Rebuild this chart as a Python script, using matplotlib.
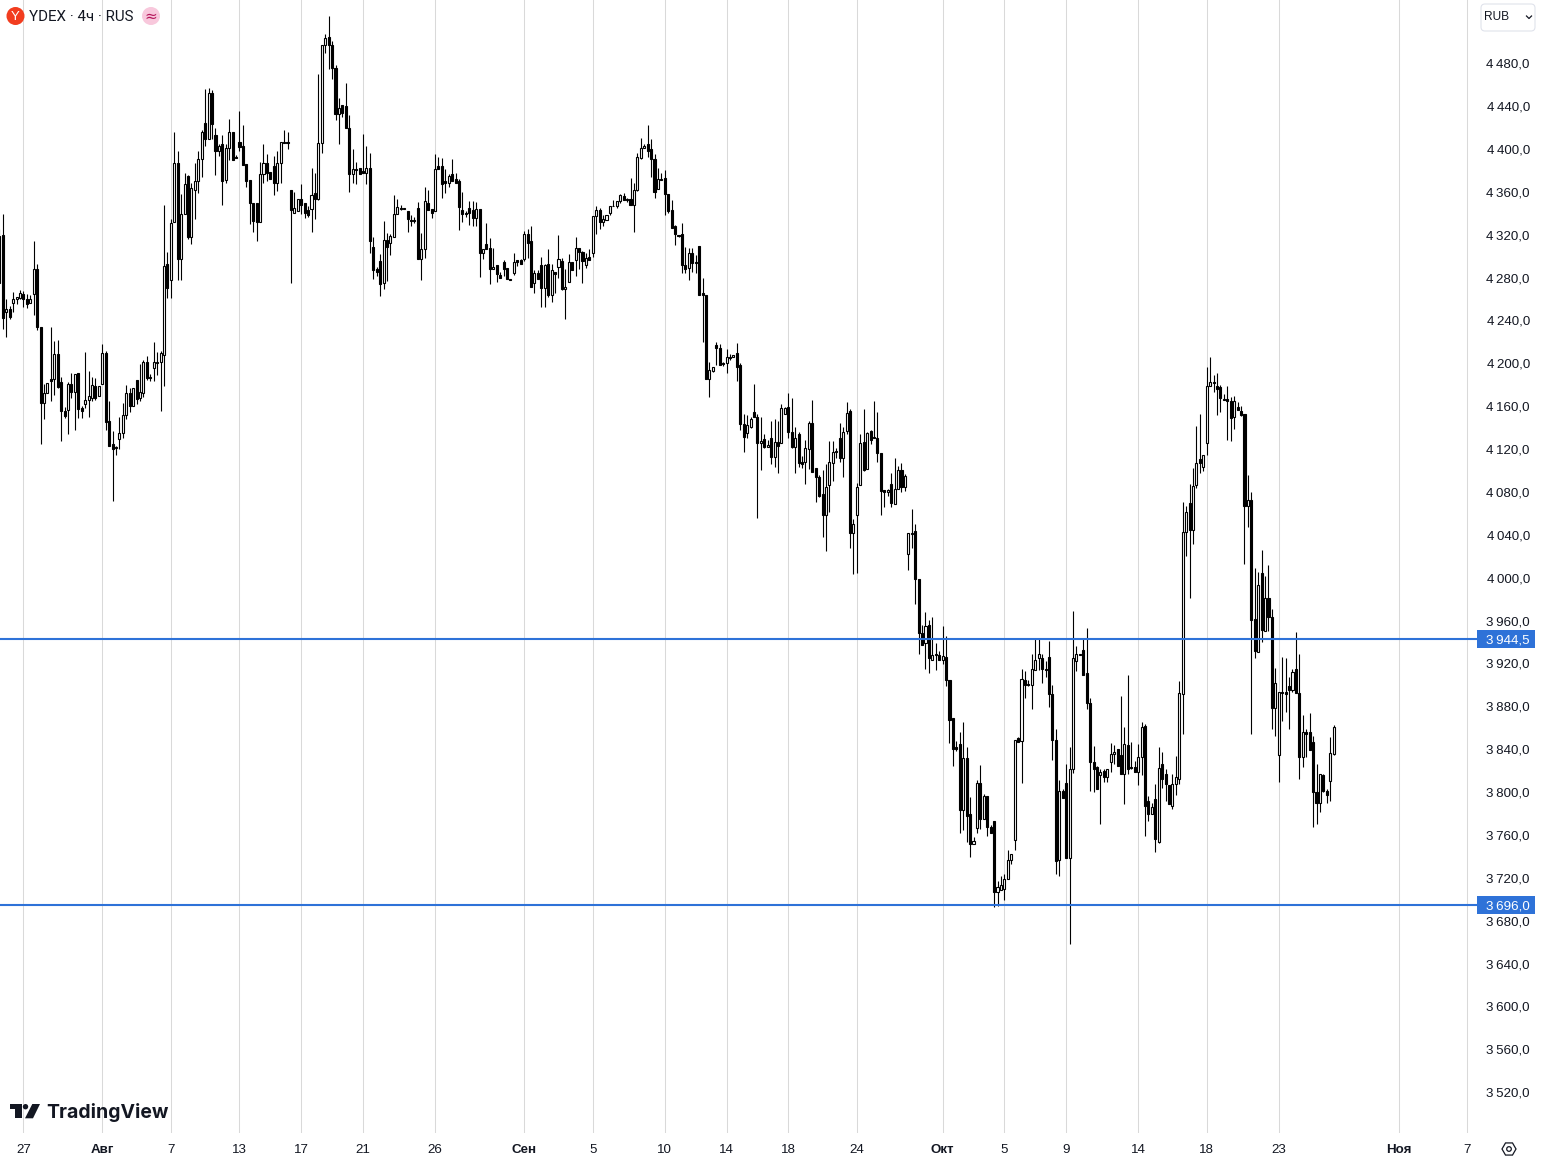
import matplotlib
matplotlib.use("Agg")
import matplotlib.pyplot as plt
from matplotlib.patches import Circle, Polygon, Rectangle, FancyBboxPatch, RegularPolygon
from matplotlib.ticker import FuncFormatter
from matplotlib.transforms import ScaledTranslation
import pandas as pd

plt.rcParams['font.family'] = ['Liberation Sans', 'DejaVu Sans']

# open, high, low, close
bars_jul = [
    (4320,4327,4276,4276),(4321,4341,4233,4244),(4249,4261,4226,4252),(4252,4255,4243,4245),
    (4258,4268,4249,4261),(4261,4263.5,4257,4263.5),(4262.5,4270,4261,4267),(4266,4269,4254,4261),
    (4261,4266,4253,4257),(4258,4265,4258,4261),(4266,4315,4246,4289),(4289,4294,4232,4235),
    (4235,4235,4126,4164),(4164,4182,4149,4174),(4174,4183,4174,4183),(4187,4235,4166,4185),
    (4187,4222,4172,4210),(4210,4223,4178,4179),(4184,4189,4129,4157),(4157,4161,4150,4152),
    (4158,4184,4135,4182),(4182,4192,4169,4175),(4175,4191,4139,4191),(4192,4192,4150,4159),
    (4160,4162,4150,4157),(4163,4212,4160,4167.5),(4167.5,4194,4151,4171),(4169,4189,4166,4181),
    (4180,4188,4167,4169),(4171,4180,4171,4180),
]
bars_aug = [
    (4182,4219,4182,4211),(4211,4213,4139,4147),(4148,4166,4124,4124),(4126,4138,4073,4121),
    (4123,4124,4116,4122),(4131,4151,4121,4136),(4136,4164,4132,4153),(4153,4181,4149,4174),
    (4174,4178,4156,4162),(4162,4178,4162,4178),(4186,4186,4163,4168),(4169,4201,4166,4175),
    (4174,4204,4170,4203),(4203,4208,4186,4188),(4189,4191,4185,4188),(4197,4221,4185,4203),
    (4202,4212,4190,4203),(4203,4213,4157,4211),(4209,4349,4180,4292),(4294,4305,4262,4272),
    (4279,4336,4262,4332),(4333,4417,4333,4388),(4388,4399,4279,4299),(4299,4359,4279,4341),
    (4341,4379,4341,4369),(4376,4377,4317,4319),(4319,4370,4313,4365),(4363,4388,4336,4371),
    (4371,4399,4360,4392),(4392,4419,4375,4417),(4426,4457,4404,4411),(4411,4458,4411,4454),
    (4454,4456,4411,4425),(4414,4421,4377,4399),(4399,4406,4395,4404),(4406,4414,4349,4371),
    (4372,4406,4370,4402),(4402,4429,4391,4417),(4417,4417,4391,4391),(4394,4396,4393,4393),
    (4408,4437,4399,4403.5),(4404,4424,4386,4386),(4387,4387,4366,4371),(4372,4372,4331,4351),
    (4351,4351,4324,4334),(4351,4351,4315,4333),(4333,4389,4333,4378),(4378,4406,4370,4388),
    (4388,4397,4371,4379),(4380,4380,4373,4373),(4385,4395,4358,4370),(4370,4399,4362,4388),
    (4388,4408,4370,4408),(4408,4419,4407,4407),(4408,4417,4401,4407),(4363,4363,4276,4344),
    (4342,4361,4342,4346),(4343,4355,4343,4355),(4355,4369,4341,4349),(4351,4351,4337,4342),
    (4344,4348.5,4338,4340),(4345,4384,4324,4358),(4360.5,4379,4336,4355),(4355,4471.5,4354,4407),
    (4407,4498.5,4398,4498.5),(4498.5,4509,4491,4505),(4506,4525,4476,4498),(4498.5,4502,4467,4477),
    (4477,4480,4428,4434),(4434,4449,4406,4440),(4442,4442,4431.5,4435),(4441,4463,4421,4421),
    (4421,4433,4361,4378),(4378,4401,4370,4383),(4383,4389,4369,4382),(4384,4384,4378,4378),
    (4381,4415,4379,4379),(4379,4404,4369,4384),(4384,4398,4304,4315),(4310,4319,4280,4288),
    (4289,4291,4283,4287),(4297,4303,4264,4275),(4276,4334,4271,4316),(4316,4323,4278,4310),
    (4314,4322,4302,4320),(4319,4358,4319,4341),(4341,4355,4341,4347),(4346,4349,4344,4345),
    (4346,4346,4345,4345),(4343,4343,4324,4336),(4335.5,4340,4329,4334.5),(4335,4338,4332,4334),
    (4346,4352,4299,4299),(4299,4323,4279,4308),(4308,4366,4300,4353),(4351,4363,4344,4344),
    (4345,4345,4337,4342),(4343,4397,4343,4383),(4385,4394,4383,4383),(4385,4393,4356,4369),
    (4371,4383,4360,4370),(4370,4378,4366,4376),(4378,4391.5,4371,4371),(4373,4379,4370,4370),
    (4371,4373,4326,4347),(4344,4361.5,4333,4341),(4342,4343,4338,4341),(4346,4353,4330,4342),
    (4344,4353,4329,4337),(4337,4352,4329,4345),(4345,4345,4282,4304),(4304,4308,4299,4308),
    (4313,4332,4308,4308),(4309,4318,4275,4289),(4289,4309,4289,4291),(4293,4293,4277,4285),
    (4284,4287,4281,4281),(4296,4298,4283,4289),(4290,4290,4280,4280),(4280,4280,4279.5,4279.5),
    (4286,4304,4284,4296),(4298,4298,4292,4296),(4298,4299,4294,4294),
]
bars_sep = [
    (4299,4325,4297,4322),(4322,4327,4300,4314),(4315,4329,4273,4273),(4276,4288,4267,4286),
    (4286,4288,4280,4280),(4293,4301,4254,4272),(4272,4294,4254,4293),(4294,4308,4263,4265),
    (4265,4294,4259,4288),(4287,4287,4267,4285),(4291,4321,4281,4299),(4297,4300,4270,4271),
    (4271,4289,4243,4273),(4277,4303,4277,4296),(4296,4296,4288,4288),(4298,4319,4283,4309),
    (4309,4309,4289,4305),(4305,4306.5,4276,4297),(4293,4304,4290,4300),(4301,4308,4298,4298),
    (4304,4339,4301,4339),(4339,4348.5,4322,4344),(4344,4346,4327,4333.5),(4333.5,4340,4329,4336),
    (4335,4340,4335,4340),(4342,4348.5,4340,4348),(4348.5,4354,4348,4348),(4348.5,4353,4346,4353),
    (4353,4359,4351,4358),(4357,4360,4354,4354),(4354.5,4356,4352,4354),(4355,4374,4349,4349),
    (4349,4370,4324,4363),(4363,4398,4362,4394),(4393,4412,4392,4402),(4402,4406,4402,4404),
    (4406,4424,4394,4399),(4401,4411,4375,4392),(4392,4397,4356,4361),(4364,4384,4364,4373),
    (4373,4379,4372,4372),(4374,4382,4340,4359),(4359,4359,4342,4343),(4344,4354,4328,4328),
    (4329,4330,4312,4322),(4321,4321,4319,4320),(4322,4332,4286,4293),(4293,4310,4286,4289),
    (4290,4309,4279,4304),(4304,4309,4287,4295),(4296,4302,4286,4295),(4311,4311,4265,4265),
    (4267,4281,4221,4265),(4265,4265,4187,4187),(4187,4203,4170,4195),(4194,4198,4193,4198),
    (4218,4221,4200,4216),(4216,4219,4200,4200),(4202,4203,4199,4201),(4202,4215,4192,4207),
    (4207,4210,4204,4206),(4207,4209,4207,4209),(4211,4220,4185,4198),(4200,4202,4139,4145),
    (4145,4154,4119,4133),(4136,4153,4132,4144),(4142,4151,4141,4149),(4156,4182,4151,4151),
    (4151,4154,4057,4127),(4127,4151,4102,4129),(4131,4135,4122,4123),(4123,4130,4123,4125),
    (4132,4148,4107,4114),(4114,4149,4105,4128),(4128,4148,4099,4124),(4127,4163,4127,4160),
    (4154,4161,4154,4160),(4161,4174,4132,4137),(4137,4169,4122,4123),(4123,4142,4099,4132),
    (4135,4137,4105,4108),(4109,4115,4104,4107),(4109,4130,4089,4122),(4121,4148,4103,4146),
    (4146,4167,4100,4100),(4104,4104,4072,4095),(4095,4097,4077,4078),(4079,4102,4039,4060),
    (4060,4107,4026,4086),(4088,4129,4063,4109),(4108,4129,4092,4119),(4120,4122,4113,4119),
    (4132,4146,4109,4113),(4113,4142,4095,4137),(4138,4165,4135,4155),(4157,4159,4029,4043),
    (4043,4056,4005,4051),(4060,4090,4006,4086),(4088,4135,4088,4127),(4128,4159,4101,4102),
    (4103,4137,4103,4136),(4138,4139,4126,4130),(4133,4166,4132,4132),(4132,4156,4109,4118),
    (4118,4118,4060,4082),(4083,4083,4067,4081),(4081,4084,4078,4083),(4089,4099,4067,4071),
    (4070,4113,4070,4084),(4084,4106,4084,4102),(4102,4108,4081,4086),(4086,4098,4082,4096),
    (4023,4043,4009,4043),(4042,4065,4029,4043),(4045,4051,3977,4000),(4000,4000,3930,3950),
    (3950,3957,3939,3939),(3940,3969,3916,3956),(3957.5,3962,3912,3926),(3925,3965,3925,3929.5),
    (3930,3940,3915,3929),(3929,3933,3925,3925),
]
bars_oct = [
    (3925,3956,3921,3928),(3927,3947,3900,3906),(3906,3906,3847,3869),(3870,3870,3826,3842),
    (3843,3849,3840,3842),(3846.5,3857,3763,3785),(3785,3867,3766,3833.5),(3833.5,3843,3755,3779),
    (3781,3797,3741,3753),(3753,3759,3753,3756),(3768,3813,3763,3810),(3810,3827,3767,3776),
    (3776,3800,3776,3798),(3798,3798,3760,3769),(3769,3771,3763,3763),(3774,3774,3694,3708),
    (3708,3718,3695,3713),(3710,3723,3710,3715),(3711,3725,3701,3720),(3720,3747,3720,3738),
    (3738,3744,3734,3744),(3757,3850,3747,3850),(3852,3853,3848,3848),(3849,3916,3810,3907),
    (3906,3914,3889,3901),(3902.5,3906,3900,3901),(3901,3930,3879,3916),(3915,3944,3915,3925),
    (3926,3944.5,3915,3930),(3926,3930,3903,3916),(3916,3924,3909,3915),(3927,3942,3881,3893),
    (3893,3901,3831,3850),(3850,3860,3725,3737.5),(3738,3813,3723,3802),(3802,3804.5,3796,3796),
    (3810,3828,3740,3740),(3740,3843,3660,3823),(3823,3970,3819,3926),(3924,3938,3914,3930),
    (3930,3930,3929,3929),(3934,3944,3911,3911),(3912,3954,3879,3884),(3884,3889,3802,3829),
    (3829,3844,3801,3823),(3825,3826,3804.5,3804.5),(3817.5,3823,3772,3820),(3821,3823,3811,3815),
    (3815,3823,3811,3823),(3829,3847,3820,3837),(3837,3845,3828,3839),(3842,3842,3826,3826),
    (3836,3891,3818.5,3818.5),(3818.5,3862,3790,3846.5),(3845.5,3911,3818.5,3823),(3825,3848,3823,3824),
    (3825,3830,3820,3820),(3820,3846.5,3808,3834),(3834,3867,3817,3862),(3863,3865,3760,3788),
    (3793,3798,3774,3781),(3781,3791,3781,3787),(3795,3809,3745,3758),(3755,3843,3754,3824),
    (3828,3839,3805,3814),(3818,3823,3793,3809),(3808,3808,3790,3790),(3788,3818.5,3786,3809),
    (3809,3835,3799,3815),(3814,3905,3809,3894),(3893,4072,3856,4044),(4044,4068,4022,4063),
    (4071,4089,3982,4046),(4046,4104,4033,4087),(4088,4143,4085,4108),(4112,4154,4099,4108),
    (4105,4116,4101,4116),(4127,4198,4116,4180),(4180,4207.5,4180,4184),(4184,4190,4175,4183),
    (4180,4192,4153,4177),(4179,4181,4156,4169),(4168,4173,4167,4167),(4168,4180,4130,4166),
    (4166,4170,4129,4150),(4151,4171,4140,4166),(4161,4165,4158,4158),(4157,4162,4152,4153),
    (4154,4154,4014,4068),(4068,4097.5,4049,4074),(4074,4081,3856,3962),(3963,4010,3926,3933),
    (3932,4007,3932,3995),(4006,4027,3941,3953),(3952,4003,3952,3982),(3982,4013.5,3952,3965),
    (3965,3972,3860,3880),(3880,3917,3854,3903),(3836,3895,3811,3895),(3895,3927,3868,3894),
    (3895,3926,3876,3893),(3900,3909,3860,3897),(3897,3916,3895,3913),(3916,3951,3894,3894),
    (3894,3930,3814,3834),(3834,3873,3825,3857),(3857,3860,3834,3856),(3857,3875,3841,3841),
    (3848,3854,3769,3801),(3801,3828,3772,3791.5),(3791.5,3818.5,3783,3818.5),(3817,3818.5,3801,3802),
    (3802,3804.5,3791.5,3799),(3812,3853,3793,3838),(3837,3864,3836,3862),
]

level_prices = [3944.5, 3696.0]
price_ticks = list(range(3520, 4481, 40))
date_ticks = [6, 29, 49, 69, 87, 105, 126, 152, 172, 193, 211, 229, 249, 274, 292, 310, 331, 351, 372, 407, 427]
date_labels = ['27', 'Авг', '7', '13', '17', '21', '26', 'Сен', '5', '10', '14', '18', '24',
               'Окт', '5', '9', '14', '18', '23', 'Ноя', '7']
month_labels = ['Авг', 'Сен', 'Окт', 'Ноя']

df = pd.DataFrame(bars_jul + bars_aug + bars_sep + bars_oct, columns=['open', 'high', 'low', 'close'])
df['pos'] = df.index - 1

W, H = 1541, 1164
TEXT = '#131722'
GRID = '#d9d9d9'
BLUE = '#2e72d8'

fig = plt.figure(figsize=(W / 100, H / 100), dpi=100, facecolor='white')
ax = fig.add_axes([0, (H - 1133) / H, 1477 / W, 1133 / H])
ax.set_xlim(-0.82, 429.79)
ax.set_ylim(3483.3, 4540.3)
for s in ax.spines.values():
    s.set_visible(False)

# candles
up = df['close'] >= df['open']
tops = df[['open', 'close']].max(axis=1)
bottoms = df[['open', 'close']].min(axis=1)
ax.vlines(df['pos'], df['low'], df['high'], color='black', lw=0.8, zorder=2)
ax.bar(df['pos'], tops - bottoms, bottom=bottoms, width=0.6,
       color=['white' if u else 'black' for u in up], edgecolor='black', linewidth=0.8, zorder=3)

# axes
ax.set_xticks(date_ticks)
ax.set_xticklabels(date_labels)
ax.set_yticks(price_ticks)
ax.yaxis.tick_right()
ax.yaxis.set_major_formatter(FuncFormatter(lambda v, _: f"{int(v) // 1000}\u2009{int(v) % 1000:03d},0"))
ax.tick_params(axis='x', length=0, pad=8, labelsize=9.6, labelcolor=TEXT)
ax.tick_params(axis='y', length=0, pad=38, labelsize=9.6, labelcolor=TEXT)
nudge = ScaledTranslation(0, 1.5 / 100, fig.dpi_scale_trans)
for lab in ax.get_yticklabels():
    lab.set_ha('right')
    lab.set_transform(lab.get_transform() + nudge)
for lab in ax.get_xticklabels():
    if lab.get_text() in month_labels:
        lab.set_fontweight('bold')
ax.grid(axis='x', color=GRID, lw=0.75, zorder=0)
ax.grid(axis='y', visible=False)
ax.set_axisbelow(True)

# horizontal levels and their price tags
tr = ax.get_yaxis_transform()
for p in level_prices:
    ax.axhline(p, color=BLUE, lw=1.5, zorder=4)
    ax.add_patch(Rectangle((1, p - 8.5), 58 / 1477, 17, transform=tr, clip_on=False,
                           facecolor=BLUE, edgecolor='none', zorder=6))
    ax.text(1 + 53 / 1477, p, f"{int(p) // 1000}\u2009{int(p) % 1000:03d},{int(p * 10) % 10}", transform=tr,
            ha='right', va='center_baseline', fontsize=9.6, color='white', zorder=7, clip_on=False)

# header, logo and controls, placed in pixels
over = fig.add_axes([0, 0, 1, 1], facecolor='none')
over.set_xlim(0, W)
over.set_ylim(H, 0)
over.axis('off')
over.add_patch(Circle((15.5, 16), 9, facecolor='#f23d1f', edgecolor='none'))
over.text(15.5, 16.5, 'Y', color='white', fontsize=9.5, ha='center', va='center')
over.text(29, 17, 'YDEX · 4ч · RUS', color=TEXT, fontsize=10.9, ha='left', va='center', family='Roboto')
over.add_patch(Circle((151, 16), 9, facecolor='#f8c8dc', edgecolor='none'))
over.text(151, 16, '≈', color='#b5175c', fontsize=11, ha='center', va='center', family='DejaVu Sans')

over.add_patch(FancyBboxPatch((1483, 6), 50, 23, boxstyle='round,pad=2,rounding_size=4',
                              facecolor='white', edgecolor='#e0e3eb', lw=0.8))
over.text(1484.5, 17, 'RUB', color=TEXT, fontsize=8.6, ha='left', va='center')
over.plot([1526.5, 1529, 1531.5], [16, 18.5, 16], color=TEXT, lw=0.9)

over.add_patch(Polygon([(10, 1104), (21.7, 1104), (21.7, 1118.3), (15, 1118.3), (15, 1109), (10, 1109)],
                       facecolor=TEXT, edgecolor='none'))
over.add_patch(Circle((25.5, 1106.7), 2.7, facecolor=TEXT, edgecolor='none'))
over.add_patch(Polygon([(32.3, 1104), (40, 1104), (33, 1118.3), (25, 1118.3)], facecolor=TEXT, edgecolor='none'))
over.text(46.5, 1112, 'TradingView', color=TEXT, fontsize=14.0, ha='left', va='center',
          family='Inter', fontweight='bold')

over.add_patch(RegularPolygon((1509, 1149), 6, radius=7, orientation=0.5236, facecolor='none',
                              edgecolor=TEXT, lw=0.9))
over.add_patch(Circle((1509, 1149), 2.3, facecolor='none', edgecolor=TEXT, lw=0.9))

fig.savefig('out.png', dpi=100)
